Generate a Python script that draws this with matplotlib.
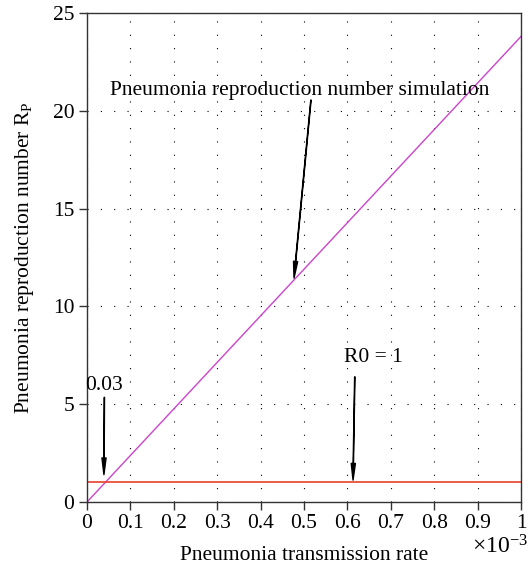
import matplotlib
matplotlib.use("Agg")
import matplotlib.pyplot as plt
from matplotlib.ticker import FuncFormatter

plt.rcParams['font.family'] = ['Liberation Serif', 'DejaVu Serif']
plt.rcParams['mathtext.fontset'] = 'custom'
plt.rcParams['mathtext.rm'] = 'Liberation Serif'
plt.rcParams['mathtext.it'] = 'Liberation Serif:italic'

# data
beta = [0.0, 1.0e-3]
rp = [0.0, 23.8]
r0_line = [1.0, 1.0]
x_ticks = [0, 0.1e-3, 0.2e-3, 0.3e-3, 0.4e-3, 0.5e-3, 0.6e-3, 0.7e-3, 0.8e-3, 0.9e-3, 1.0e-3]
y_ticks = [0, 5, 10, 15, 20, 25]

fig = plt.figure(figsize=(5.30, 5.69), dpi=100)
ax = fig.add_axes([87/530, 1-502/569, (521-87)/530, (502-13)/569])

ax.plot(beta, rp, color='#CC44CC', lw=1.0)
ax.plot(beta, r0_line, color='#E8402E', lw=1.2)

ax.set_xlim(0, 1e-3)
ax.set_ylim(0, 25)
ax.set_xticks(x_ticks)
ax.set_yticks(y_ticks)
ax.xaxis.set_major_formatter(FuncFormatter(lambda v, p: f"{v*1e3:.1f}".rstrip('0').rstrip('.') if v != 0 else "0"))
ax.grid(True, color='black', linestyle=(0, (1, 11)), lw=0.8)
ax.tick_params(direction='out', length=6, width=1, labelsize=15.5, color='#333333', pad=3)
for s in ax.spines.values():
    s.set_linewidth(1.0)
    s.set_color('#333333')

ax.set_xlabel('Pneumonia transmission rate', fontsize=15.5, labelpad=9)
ax.set_ylabel(r'Pneumonia reproduction number R$_\mathregular{P}$', fontsize=15.5, labelpad=12)
ax.text(1.016, -0.068, r'$\times\mathregular{10^{-3}}$', transform=ax.transAxes, ha='right', va='top', fontsize=17)

arrow = dict(facecolor='black', edgecolor='black', width=0.25, headwidth=3.0, headlength=12, shrink=0)

ax.text(0.49e-3, 21.05, 'Pneumonia reproduction number simulation', ha='center', va='center', fontsize=15.5)
ax.annotate('', xy=(0.477e-3, 11.45), xytext=(0.516e-3, 20.55), arrowprops=arrow)

ax.text(0.04e-3, 5.95, '0.03', ha='center', va='center', fontsize=15.5)
ax.annotate('', xy=(0.039e-3, 1.4), xytext=(0.04e-3, 5.35), arrowprops=arrow)

ax.text(0.659e-3, 7.4, 'R0 = 1', ha='center', va='center', fontsize=15.5)
ax.annotate('', xy=(0.613e-3, 1.12), xytext=(0.617e-3, 6.4), arrowprops=arrow)

fig.savefig('out.png', dpi=100)
